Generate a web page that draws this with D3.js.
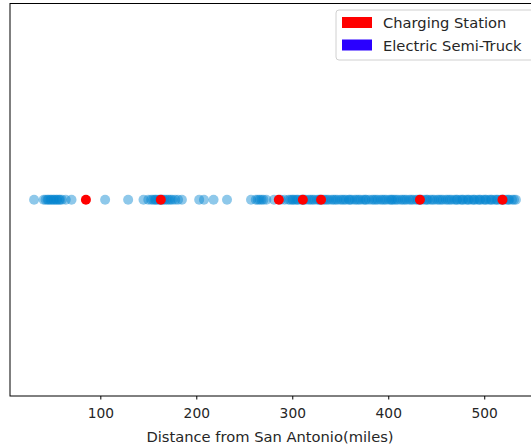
<!DOCTYPE html>
<html>
<head>
<meta charset="utf-8">
<script src="https://cdn.jsdelivr.net/npm/d3@7"></script>
<style>
  html,body{margin:0;padding:0;background:#fff;}
  text{font-family:"DejaVu Sans",sans-serif;fill:#262626;}
</style>
</head>
<body>
<div id="chart"></div>
<script>
// distances (miles) of charging stations and trucks along the route
const stations=[85,163,286,311,330,433,519];
const trucks=[31,41,43,45,46,48,49,51,52,54,55,57,58,60,64,70,105,129,145,
  150,153,155,157,158,160,162,164,165,167,169,171,173,175,178,181,185,
  203,208,218,232,
  257,262,264,266,268,270,273,281,288,292,296,298,300,301,303,305,306,309,311,312,314,317,319,321,323,
  326,328,329,332,334,336,338,341,343,345,347,350,352,354,356,359,360,362,365,367,369,371,374,376,377,
  380,383,385,387,389,392,394,396,398,401,403,404,406,408,410,413,415,417,419,422,424,426,429,431,
  433,435,438,440,441,444,446,448,451,453,455,457,460,462,464,466,469,471,472,475,477,478,481,483,484,
  487,489,490,493,495,496,499,501,502,505,507,508,511,513,514,517,519,520,523,525,526,529,531,533];
const xTicks=[100,200,300,400,500];
const legendItems=[{label:"Charging Station",color:"#ff0000"},{label:"Electric Semi-Truck",color:"#2a00ff"}];

(function(){
  const W=531,H=448;
  const L=10,T=3.5,R=540,B=396;
  const svg=d3.select('#chart').append('svg').attr('width',W).attr('height',H);

  // matplotlib-like autoscale with 5% margins
  const lo=d3.min(trucks.concat(stations)),hi=d3.max(trucks.concat(stations));
  const pad=(hi-lo)*0.05;
  const x=d3.scaleLinear().domain([lo-pad,hi+pad]).range([L,R]);
  const y=d3.scaleLinear().domain([0,2]).range([B,T]);

  svg.append('g').selectAll('circle.truck').data(trucks).join('circle')
    .attr('class','truck')
    .attr('cx',d=>x(d)).attr('cy',y(1)).attr('r',5)
    .attr('fill','#0485d1').attr('fill-opacity',0.45);

  svg.append('g').selectAll('circle.station').data(stations).join('circle')
    .attr('class','station')
    .attr('cx',d=>x(d)).attr('cy',y(1)).attr('r',5)
    .attr('fill','#ff0000');

  // frame
  svg.append('rect').attr('x',L).attr('y',T).attr('width',R-L).attr('height',B-T)
    .attr('fill','none').attr('stroke','#000').attr('stroke-width',1);

  const ax=svg.append('g').attr('transform',`translate(0,${B})`)
    .call(d3.axisBottom(x).tickValues(xTicks).tickSize(3.5).tickPadding(9).tickFormat(d3.format('d')));
  ax.select('.domain').remove();
  ax.selectAll('text').style('font-size','13.8px').style('font-family','"DejaVu Sans",sans-serif').attr('fill','#262626');
  ax.selectAll('line').attr('stroke','#000');

  svg.append('text').attr('x',270).attr('y',442).attr('text-anchor','middle')
    .style('font-size','14.7px').text('Distance from San Antonio(miles)');

  // legend
  const lg=svg.append('g');
  lg.append('rect').attr('x',336).attr('y',10).attr('width',210).attr('height',50).attr('rx',3)
    .attr('fill','#fff').attr('fill-opacity',0.8).attr('stroke','#d0d0d0');
  const it=lg.selectAll('g.item').data(legendItems).join('g').attr('class','item')
    .attr('transform',(d,i)=>`translate(0,${i*22.5})`);
  it.append('rect').attr('x',342).attr('y',17).attr('width',30).attr('height',11).attr('fill',d=>d.color);
  it.append('text').attr('x',383).attr('y',28).style('font-size','14.7px').text(d=>d.label);
})();
</script>
</body>
</html>
